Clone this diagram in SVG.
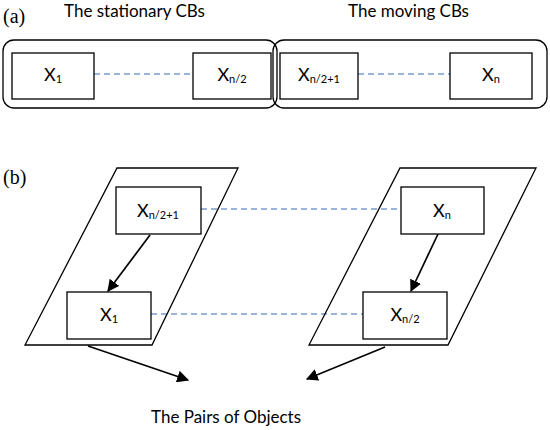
<svg xmlns="http://www.w3.org/2000/svg" width="550" height="430" viewBox="0 0 550 430">
<style>
.box{fill:#fff;stroke:#000;stroke-width:1.3}
.cont{fill:none;stroke:#000;stroke-width:1.3}
.dash{stroke:#7a9cd0;stroke-width:1.3;stroke-dasharray:6 4;fill:none}
.arr{stroke:#000;stroke-width:1.7;fill:none;marker-end:url(#ah)}
.lbl{font-family:Lato,"Open Sans",sans-serif;font-size:18px;fill:#000;text-anchor:middle}
.sub{font-size:11px}
.ttl{font-family:Lato,"Open Sans",sans-serif;font-size:17px;fill:#000}
.tag{font-family:"Liberation Serif",serif;font-size:20px;fill:#000}
</style>
<defs>
<marker id="ah" viewBox="0 0 10 10" refX="9" refY="5" markerWidth="12" markerHeight="12" markerUnits="userSpaceOnUse" orient="auto">
<path d="M0,0 L10,5 L0,10 Z" fill="#000"/>
</marker>
</defs>
<text class="tag" x="3" y="23">(a)</text>
<text class="ttl" x="64" y="17">The stationary CBs</text>
<text class="ttl" x="348" y="17">The moving CBs</text>
<g id="stationary"><rect class="cont" x="3" y="40" width="274" height="68" rx="11"/></g>
<g id="moving"><rect class="cont" x="273" y="40" width="274" height="68" rx="11"/></g>
<g id="connectors">
<line class="dash" x1="94" y1="74" x2="193" y2="74"/>
<line class="dash" x1="358" y1="74" x2="450" y2="74"/>
<line class="dash" x1="201" y1="209" x2="401" y2="209"/>
<line class="dash" x1="151" y1="314" x2="363" y2="314"/>
<line class="arr" x1="150" y1="235" x2="108" y2="291"/>
<line class="arr" x1="438" y1="234" x2="411" y2="291"/>
<line class="arr" x1="88" y1="346" x2="188" y2="380"/>
<line class="arr" x1="385" y1="347" x2="307" y2="379"/>
</g>
<g id="a-x1"><rect class="box" x="12" y="53" width="82" height="46"/><text class="lbl" x="53" y="81">X<tspan class="sub" dy="2">1</tspan></text></g>
<g id="a-xn2"><rect class="box" x="193" y="53" width="78" height="46"/><text class="lbl" x="232" y="81">X<tspan class="sub" dy="2">n/2</tspan></text></g>
<g id="a-xn21"><rect class="box" x="280" y="53" width="78" height="46"/><text class="lbl" x="319" y="81">X<tspan class="sub" dy="2">n/2+1</tspan></text></g>
<g id="a-xn"><rect class="box" x="450" y="53" width="82" height="46"/><text class="lbl" x="491" y="81">X<tspan class="sub" dy="2">n</tspan></text></g>
<text class="tag" x="3" y="184">(b)</text>
<g id="left-plane"><polygon class="cont" points="117,168 238,168 152,345 25,345"/></g>
<g id="right-plane"><polygon class="cont" points="400,168 536,168 448,345 309,345"/></g>
<g id="b-xn21"><rect class="box" x="116" y="187" width="85" height="47"/><text class="lbl" x="158" y="217">X<tspan class="sub" dy="2">n/2+1</tspan></text></g>
<g id="b-x1"><rect class="box" x="67" y="292" width="84" height="47"/><text class="lbl" x="109" y="321">X<tspan class="sub" dy="2">1</tspan></text></g>
<g id="b-xn"><rect class="box" x="401" y="187" width="83" height="47"/><text class="lbl" x="442" y="217">X<tspan class="sub" dy="2">n</tspan></text></g>
<g id="b-xn2"><rect class="box" x="363" y="292" width="84" height="47"/><text class="lbl" x="405" y="321">X<tspan class="sub" dy="2">n/2</tspan></text></g>
<text class="ttl" x="151" y="423">The Pairs of Objects</text>
</svg>
